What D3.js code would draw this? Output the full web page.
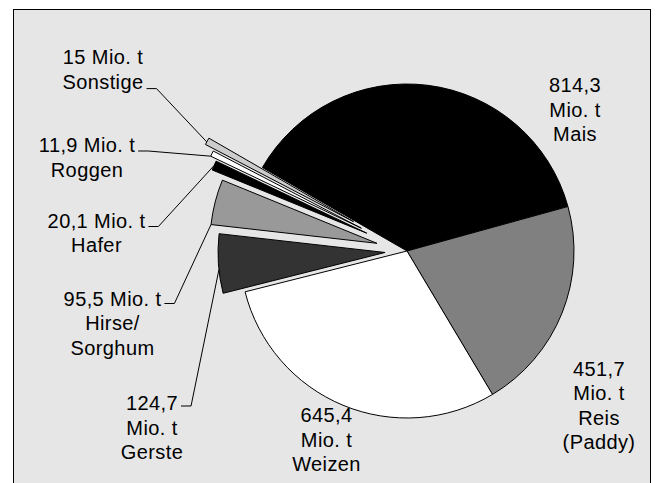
<!DOCTYPE html>
<html>
<head>
<meta charset="utf-8">
<script src="https://cdn.jsdelivr.net/npm/d3@7"></script>
<style>
  html, body { margin: 0; padding: 0; background: #fff; }
  svg { display: block; }
  text { font-family: "Liberation Sans", Arial, sans-serif; font-size: 20px; letter-spacing: 0.4px; fill: #000; }
</style>
</head>
<body>
<svg id="chart" width="660" height="483"></svg>
<script>
// Weltgetreideernte nach Getreideart (Mio. t)
const categories = ["Mais", "Reis", "Weizen", "Gerste", "Hirse", "Hafer", "Roggen", "Sonstige"];
const values = [814.3, 451.7, 645.4, 124.7, 95.5, 20.1, 11.9, 15];
const nameLines = [["Mais"], ["Reis", "(Paddy)"], ["Weizen"], ["Gerste"], ["Hirse/", "Sorghum"], ["Hafer"], ["Roggen"], ["Sonstige"]];
const unit = "Mio. t";
const fills = ["#000000", "#808080", "#ffffff", "#333333", "#999999", "#000000", "#ffffff", "#cccccc"];

// Layout: pulled-out distance, label anchor and leader line settings per slice
const explode = [0, 0, 0, 22, 31, 44, 51, 61];
const labelPos = [
  { x: 575, y: 92, join: false },
  { x: 599, y: 375.5, join: false },
  { x: 326.5, y: 422, join: false },
  { x: 152, y: 410, join: false, leader: 0.4, from: 0, dy: -4 },
  { x: 112.5, y: 305.5, join: true, leader: 0, from: 0, dy: -2 },
  { x: 96.5, y: 227.5, join: true, leader: 0.5, from: 0, dy: -1 },
  { x: 87, y: 152, join: true, leader: 0, from: 0, dy: -1 },
  { x: 103, y: 64, join: true, leader: 0.4, from: 1, dy: 0 }
];
const lineHeight = 24.6;

const de = d3.formatLocale({ decimal: ",", thousands: ".", grouping: [3], currency: ["", " €"] });
const fmt = de.format("~f");

const svg = d3.select("#chart");
const cx = 407, cy = 251, radius = 167;

// Plot area frame
svg.append("rect")
  .attr("x", 13.5).attr("y", 9.5)
  .attr("width", 637).attr("height", 500)
  .attr("fill", "#e6e6e6").attr("stroke", "#000").attr("stroke-width", 1);

const data = categories.map((c, i) => ({ name: c, value: values[i], i }));
const pie = d3.pie().sort(null).value(d => d.value)
  .startAngle(-60 * Math.PI / 180).endAngle(300 * Math.PI / 180);
const arcs = pie(data);
const arc = d3.arc().innerRadius(0).outerRadius(radius);

function offsetOf(a) {
  const mid = (a.startAngle + a.endAngle) / 2;
  const d = explode[a.data.i];
  return [d * Math.sin(mid), -d * Math.cos(mid)];
}

const g = svg.append("g").attr("transform", `translate(${cx},${cy})`);
const leaderLayer = svg.append("g");
const sliceLayer = g.append("g");
const labelLayer = svg.append("g");

sliceLayer.selectAll("path")
  .data(arcs)
  .join("path")
  .attr("d", arc)
  .attr("transform", d => { const o = offsetOf(d); return `translate(${o[0]},${o[1]})`; })
  .attr("fill", d => fills[d.data.i])
  .attr("stroke", "#000")
  .attr("stroke-width", 1)
  .attr("stroke-linejoin", "round");

// Labels
arcs.forEach(a => {
  const i = a.data.i;
  const p = labelPos[i];
  const v = fmt(a.data.value);
  const lines = p.join ? [v + " " + unit, ...nameLines[i]] : [v, unit, ...nameLines[i]];
  const t = labelLayer.append("text").attr("text-anchor", "middle");
  const spans = lines.map((ln, k) =>
    t.append("tspan").attr("x", p.x).attr("y", p.y + k * lineHeight).text(ln));

  if (p.leader !== undefined) {
    const span = spans[p.from];
    const len = span.node().getComputedTextLength();
    const x0 = p.x + len / 2 + 3;
    const y0 = p.y + p.from * lineHeight + p.dy;
    const ang = a.startAngle + p.leader * (a.endAngle - a.startAngle);
    const o = offsetOf(a);
    const tx = cx + o[0] + radius * Math.sin(ang);
    const ty = cy + o[1] - radius * Math.cos(ang);
    leaderLayer.append("polyline")
      .attr("points", `${x0},${y0} ${x0 + 10},${y0} ${tx},${ty}`)
      .attr("fill", "none").attr("stroke", "#000").attr("stroke-width", 1);
  }
});
</script>
</body>
</html>
